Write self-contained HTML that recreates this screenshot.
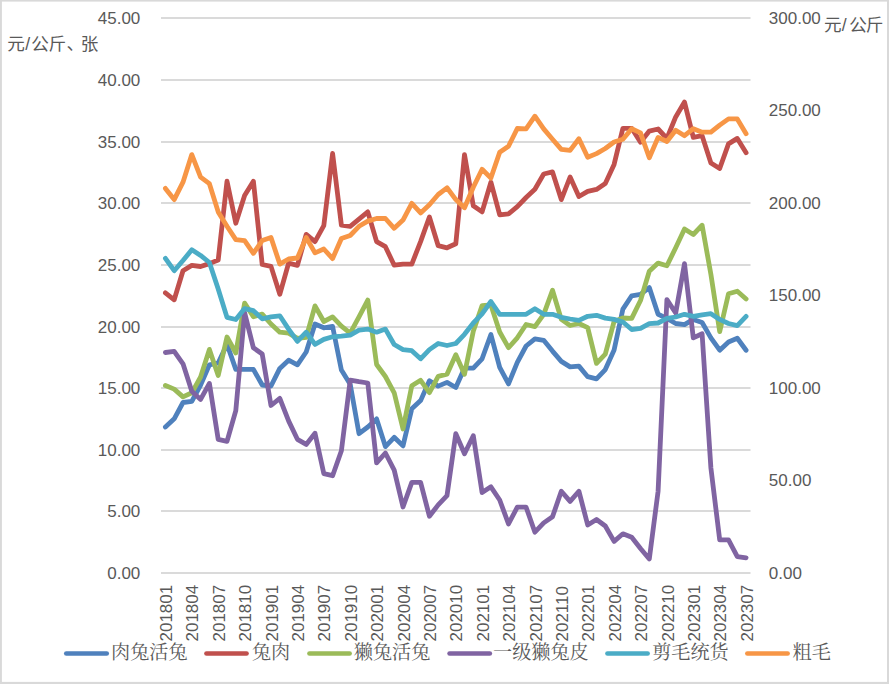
<!DOCTYPE html>
<html><head><meta charset="utf-8"><title>chart</title>
<style>html,body{margin:0;padding:0;background:#fff;}body{width:889px;height:684px;overflow:hidden;}svg{display:block;}text{font-family:"Liberation Sans",sans-serif;fill:#595959;}</style>
</head><body>
<svg width="889" height="684" viewBox="0 0 889 684">
<rect x="0" y="0" width="889" height="684" fill="#ffffff"/>
<rect x="0" y="0" width="889" height="1.6" fill="#d9d9d9"/>
<rect x="0" y="0" width="1.9" height="684" fill="#d9d9d9"/>
<rect x="887" y="0" width="2" height="684" fill="#d9d9d9"/>
<rect x="0" y="681.9" width="889" height="2.1" fill="#d9d9d9"/>
<g fill="#dadada">
<rect x="161.0" y="17" width="589.5" height="2"/>
<rect x="161.0" y="79" width="589.5" height="2"/>
<rect x="161.0" y="141" width="589.5" height="2"/>
<rect x="161.0" y="202" width="589.5" height="2"/>
<rect x="161.0" y="264" width="589.5" height="2"/>
<rect x="161.0" y="326" width="589.5" height="2"/>
<rect x="161.0" y="387" width="589.5" height="2"/>
<rect x="161.0" y="449" width="589.5" height="2"/>
<rect x="161.0" y="510" width="589.5" height="2"/>
<rect x="161.0" y="572" width="589.5" height="2"/>
</g>
<g font-size="17.0">
<text transform="translate(140.3,24.05) scale(1.0,1)" text-anchor="end">45.00</text>
<text transform="translate(140.3,86.05) scale(1.0,1)" text-anchor="end">40.00</text>
<text transform="translate(140.3,148.05) scale(1.0,1)" text-anchor="end">35.00</text>
<text transform="translate(140.3,209.05) scale(1.0,1)" text-anchor="end">30.00</text>
<text transform="translate(140.3,271.05) scale(1.0,1)" text-anchor="end">25.00</text>
<text transform="translate(140.3,333.05) scale(1.0,1)" text-anchor="end">20.00</text>
<text transform="translate(140.3,394.05) scale(1.0,1)" text-anchor="end">15.00</text>
<text transform="translate(140.3,456.05) scale(1.0,1)" text-anchor="end">10.00</text>
<text transform="translate(140.3,517.05) scale(1.0,1)" text-anchor="end">5.00</text>
<text transform="translate(140.3,579.05) scale(1.0,1)" text-anchor="end">0.00</text>
<text transform="translate(768.8,24.05) scale(1.0,1)">300.00</text>
<text transform="translate(768.8,116.05) scale(1.0,1)">250.00</text>
<text transform="translate(768.8,209.05) scale(1.0,1)">200.00</text>
<text transform="translate(768.8,301.05) scale(1.0,1)">150.00</text>
<text transform="translate(768.8,394.05) scale(1.0,1)">100.00</text>
<text transform="translate(768.8,486.05) scale(1.0,1)">50.00</text>
<text transform="translate(768.8,579.05) scale(1.0,1)">0.00</text>
<text transform="translate(172.10,641.5) rotate(-90) scale(1.0,1)">201801</text>
<text transform="translate(198.49,641.5) rotate(-90) scale(1.0,1)">201804</text>
<text transform="translate(224.89,641.5) rotate(-90) scale(1.0,1)">201807</text>
<text transform="translate(251.29,641.5) rotate(-90) scale(1.0,1)">201810</text>
<text transform="translate(277.68,641.5) rotate(-90) scale(1.0,1)">201901</text>
<text transform="translate(304.08,641.5) rotate(-90) scale(1.0,1)">201904</text>
<text transform="translate(330.47,641.5) rotate(-90) scale(1.0,1)">201907</text>
<text transform="translate(356.87,641.5) rotate(-90) scale(1.0,1)">201910</text>
<text transform="translate(383.26,641.5) rotate(-90) scale(1.0,1)">202001</text>
<text transform="translate(409.66,641.5) rotate(-90) scale(1.0,1)">202004</text>
<text transform="translate(436.05,641.5) rotate(-90) scale(1.0,1)">202007</text>
<text transform="translate(462.45,641.5) rotate(-90) scale(1.0,1)">202010</text>
<text transform="translate(488.85,641.5) rotate(-90) scale(1.0,1)">202101</text>
<text transform="translate(515.24,641.5) rotate(-90) scale(1.0,1)">202104</text>
<text transform="translate(541.64,641.5) rotate(-90) scale(1.0,1)">202107</text>
<text transform="translate(568.03,641.5) rotate(-90) scale(1.0,1)">202110</text>
<text transform="translate(594.43,641.5) rotate(-90) scale(1.0,1)">202201</text>
<text transform="translate(620.82,641.5) rotate(-90) scale(1.0,1)">202204</text>
<text transform="translate(647.22,641.5) rotate(-90) scale(1.0,1)">202207</text>
<text transform="translate(673.61,641.5) rotate(-90) scale(1.0,1)">202210</text>
<text transform="translate(700.01,641.5) rotate(-90) scale(1.0,1)">202301</text>
<text transform="translate(726.41,641.5) rotate(-90) scale(1.0,1)">202304</text>
<text transform="translate(752.80,641.5) rotate(-90) scale(1.0,1)">202307</text>
</g>
<polyline points="165.4,427.0 174.2,418.8 183.0,402.5 191.8,401.4 200.6,385.0 209.4,364.8 218.2,363.0 227.0,344.2 235.8,369.4 244.6,369.4 253.4,369.4 262.2,385.0 271.0,386.0 279.8,368.4 288.6,360.2 297.4,364.8 306.2,352.0 315.0,324.0 323.8,327.8 332.6,326.4 341.4,370.1 350.2,384.2 359.0,433.7 367.8,427.0 376.6,418.9 385.4,446.6 394.2,437.3 403.0,445.9 411.8,408.8 420.6,400.6 429.4,380.8 438.2,386.1 447.0,382.4 455.8,387.5 464.5,368.1 473.3,368.1 482.1,358.8 490.9,334.5 499.7,367.3 508.5,383.9 517.3,362.4 526.1,346.0 534.9,338.8 543.7,340.3 552.5,351.1 561.3,361.4 570.1,366.9 578.9,366.1 587.7,376.7 596.5,378.8 605.3,369.6 614.1,350.1 622.9,309.1 631.7,295.8 640.5,294.4 649.3,287.6 658.1,314.3 666.9,318.4 675.7,323.5 684.5,324.6 693.3,319.4 702.1,322.5 710.9,337.9 719.7,350.2 728.5,342.0 737.3,338.3 746.1,350.2" fill="none" stroke="#4F81BD" stroke-width="4.8" stroke-linejoin="round" stroke-linecap="round"/>
<polyline points="165.4,292.8 174.2,299.8 183.0,270.7 191.8,265.4 200.6,266.5 209.4,263.6 218.2,260.0 227.0,181.2 235.8,223.2 244.6,195.5 253.4,181.2 262.2,264.5 271.0,266.4 279.8,294.3 288.6,263.2 297.4,265.3 306.2,234.4 315.0,241.6 323.8,225.7 332.6,153.5 341.4,225.2 350.2,226.3 359.0,219.1 367.8,211.9 376.6,241.6 385.4,246.7 394.2,265.2 403.0,264.1 411.8,264.1 420.6,241.6 429.4,217.0 438.2,245.7 447.0,247.8 455.8,243.7 464.5,154.6 473.3,205.8 482.1,211.9 490.9,182.2 499.7,214.9 508.5,213.9 517.3,206.7 526.1,197.5 534.9,189.3 543.7,174.0 552.5,171.9 561.3,199.6 570.1,177.0 578.9,196.5 587.7,191.4 596.5,189.4 605.3,183.6 614.1,164.4 622.9,128.3 631.7,128.3 640.5,142.3 649.3,131.1 658.1,129.0 666.9,138.5 675.7,116.9 684.5,102.1 693.3,137.3 702.1,135.7 710.9,162.9 719.7,168.5 728.5,143.9 737.3,138.4 746.1,152.7" fill="none" stroke="#C0504D" stroke-width="4.8" stroke-linejoin="round" stroke-linecap="round"/>
<polyline points="165.4,385.5 174.2,389.1 183.0,396.9 191.8,392.8 200.6,377.0 209.4,349.4 218.2,375.5 227.0,337.0 235.8,353.0 244.6,303.1 253.4,316.8 262.2,314.1 271.0,324.0 279.8,332.2 288.6,333.2 297.4,338.3 306.2,337.3 315.0,305.9 323.8,321.5 332.6,316.9 341.4,326.1 350.2,333.2 359.0,316.9 367.8,300.1 376.6,364.5 385.4,376.5 394.2,392.8 403.0,429.0 411.8,385.8 420.6,380.3 429.4,392.6 438.2,376.3 447.0,374.2 455.8,354.7 464.5,374.2 473.3,331.2 482.1,305.6 490.9,305.0 499.7,332.0 508.5,347.7 517.3,337.8 526.1,324.5 534.9,326.6 543.7,314.3 552.5,290.3 561.3,319.4 570.1,325.5 578.9,323.5 587.7,327.6 596.5,363.4 605.3,354.2 614.1,321.4 622.9,318.0 631.7,318.4 640.5,300.5 649.3,271.3 658.1,263.1 666.9,265.7 675.7,247.8 684.5,228.9 693.3,234.5 702.1,225.2 710.9,274.4 719.7,331.7 728.5,293.8 737.3,291.2 746.1,299.0" fill="none" stroke="#9BBB59" stroke-width="4.8" stroke-linejoin="round" stroke-linecap="round"/>
<polyline points="165.4,352.5 174.2,351.4 183.0,363.8 191.8,391.2 200.6,399.4 209.4,383.4 218.2,439.3 227.0,441.4 235.8,410.7 244.6,312.7 253.4,347.8 262.2,354.0 271.0,405.5 279.8,398.4 288.6,420.9 297.4,439.3 306.2,444.4 315.0,433.2 323.8,473.6 332.6,475.7 341.4,450.7 350.2,380.2 359.0,381.7 367.8,383.0 376.6,462.9 385.4,453.0 394.2,470.1 403.0,507.0 411.8,482.4 420.6,482.4 429.4,516.2 438.2,504.9 447.0,495.7 455.8,433.7 464.5,453.7 473.3,435.7 482.1,492.6 490.9,486.8 499.7,500.0 508.5,524.0 517.3,507.2 526.1,507.2 534.9,532.2 543.7,522.9 552.5,516.8 561.3,491.2 570.1,501.4 578.9,491.2 587.7,525.0 596.5,519.5 605.3,526.0 614.1,541.4 622.9,533.8 631.7,537.3 640.5,548.5 649.3,559.0 658.1,491.2 666.9,299.6 675.7,313.0 684.5,263.7 693.3,337.9 702.1,333.8 710.9,468.0 719.7,539.9 728.5,539.9 737.3,556.7 746.1,557.8" fill="none" stroke="#8064A2" stroke-width="4.8" stroke-linejoin="round" stroke-linecap="round"/>
<polyline points="165.4,258.4 174.2,270.7 183.0,260.5 191.8,249.8 200.6,255.4 209.4,262.5 218.2,289.1 227.0,317.4 235.8,319.5 244.6,308.6 253.4,310.7 262.2,318.8 271.0,316.8 279.8,315.8 288.6,329.1 297.4,341.4 306.2,332.2 315.0,344.4 323.8,339.4 332.6,336.8 341.4,336.2 350.2,335.2 359.0,330.2 367.8,329.1 376.6,332.2 385.4,329.1 394.2,344.5 403.0,349.6 411.8,350.7 420.6,358.8 429.4,349.6 438.2,343.5 447.0,345.5 455.8,343.5 464.5,334.3 473.3,323.0 482.1,313.8 490.9,301.5 499.7,314.3 508.5,314.3 517.3,314.3 526.1,314.3 534.9,308.7 543.7,314.3 552.5,314.3 561.3,317.3 570.1,319.0 578.9,320.4 587.7,316.3 596.5,315.3 605.3,318.1 614.1,319.4 622.9,322.0 631.7,329.5 640.5,328.4 649.3,323.7 658.1,323.0 666.9,318.4 675.7,317.0 684.5,314.3 693.3,316.4 702.1,314.9 710.9,313.7 719.7,319.4 728.5,323.5 737.3,325.6 746.1,316.4" fill="none" stroke="#4BACC6" stroke-width="4.8" stroke-linejoin="round" stroke-linecap="round"/>
<polyline points="165.4,188.4 174.2,199.6 183.0,182.2 191.8,154.6 200.6,177.1 209.4,183.7 218.2,211.9 227.0,226.3 235.8,239.6 244.6,240.6 253.4,253.3 262.2,240.6 271.0,237.5 279.8,264.1 288.6,259.0 297.4,258.0 306.2,237.5 315.0,252.9 323.8,249.0 332.6,258.6 341.4,238.5 350.2,235.5 359.0,226.3 367.8,221.1 376.6,218.5 385.4,218.5 394.2,228.3 403.0,220.1 411.8,203.3 420.6,212.9 429.4,204.7 438.2,194.5 447.0,187.8 455.8,199.6 464.5,207.8 473.3,187.3 482.1,169.3 490.9,178.1 499.7,152.3 508.5,146.3 517.3,128.5 526.1,128.9 534.9,116.2 543.7,128.9 552.5,139.2 561.3,149.4 570.1,150.4 578.9,138.7 587.7,157.2 596.5,153.6 605.3,148.5 614.1,142.0 622.9,139.3 631.7,128.8 640.5,132.9 649.3,157.7 658.1,137.4 666.9,141.5 675.7,130.2 684.5,135.7 693.3,128.7 702.1,132.2 710.9,132.2 719.7,125.1 728.5,118.9 737.3,118.9 746.1,133.7" fill="none" stroke="#F79646" stroke-width="4.8" stroke-linejoin="round" stroke-linecap="round"/>
<text y="49.6" font-size="17.6" fill="#595959" style="font-family:'Liberation Sans','Noto Sans CJK SC',sans-serif"><tspan x="7.14">元</tspan><tspan x="25.2">/</tspan><tspan x="31.27">公</tspan><tspan x="48.48">斤</tspan><tspan x="66.55">、</tspan><tspan x="80.7">张</tspan></text>
<text y="31.4" font-size="17.6" fill="#595959" style="font-family:'Liberation Sans','Noto Sans CJK SC',sans-serif"><tspan x="824.1">元</tspan><tspan x="841.8">/</tspan><tspan x="849.37">公</tspan><tspan x="865.68">斤</tspan></text>
<line x1="66.3" y1="653.5" x2="106.7" y2="653.5" stroke="#4F81BD" stroke-width="4.7" stroke-linecap="round"/>
<text x="111" y="659.3" font-size="19.15" fill="#595959" style="font-family:'Liberation Serif','Noto Serif CJK SC',serif">肉兔活兔</text>
<line x1="206.5" y1="653.5" x2="246.5" y2="653.5" stroke="#C0504D" stroke-width="4.7" stroke-linecap="round"/>
<text x="251.95" y="659.3" font-size="19.15" fill="#595959" style="font-family:'Liberation Serif','Noto Serif CJK SC',serif">兔肉</text>
<line x1="309.5" y1="653.5" x2="349.6" y2="653.5" stroke="#9BBB59" stroke-width="4.7" stroke-linecap="round"/>
<text x="353.8" y="659.3" font-size="19.15" fill="#595959" style="font-family:'Liberation Serif','Noto Serif CJK SC',serif">獭兔活兔</text>
<line x1="449.6" y1="653.5" x2="489.8" y2="653.5" stroke="#8064A2" stroke-width="4.7" stroke-linecap="round"/>
<text x="493" y="659.3" font-size="19.15" fill="#595959" style="font-family:'Liberation Serif','Noto Serif CJK SC',serif">一级獭兔皮</text>
<line x1="607.5" y1="653.5" x2="647.6" y2="653.5" stroke="#4BACC6" stroke-width="4.7" stroke-linecap="round"/>
<text x="652.2" y="659.3" font-size="19.15" fill="#595959" style="font-family:'Liberation Serif','Noto Serif CJK SC',serif">剪毛统货</text>
<line x1="747.4" y1="653.5" x2="787.6" y2="653.5" stroke="#F79646" stroke-width="4.7" stroke-linecap="round"/>
<text x="792.5" y="659.3" font-size="19.15" fill="#595959" style="font-family:'Liberation Serif','Noto Serif CJK SC',serif">粗毛</text>
</svg>
</body></html>
